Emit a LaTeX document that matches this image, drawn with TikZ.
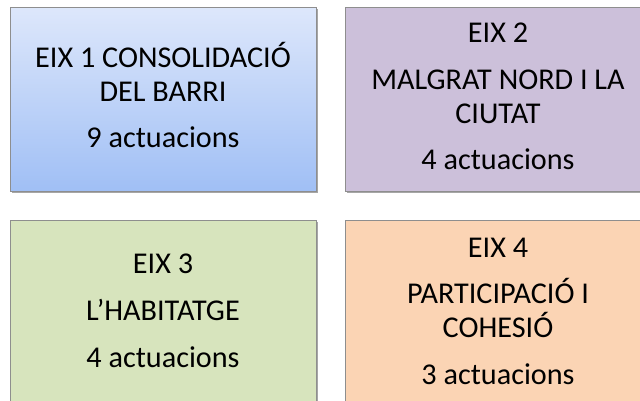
\documentclass[tikz,border=0pt]{standalone}
\usepackage{fontspec}
\setmainfont{Carlito}
\usetikzlibrary{shadows}
\definecolor{blueTop}{HTML}{DDE7FB}
\definecolor{blueBot}{HTML}{A0BFF5}
\definecolor{lilac}{HTML}{CCC0DA}
\definecolor{sage}{HTML}{D7E4BD}
\definecolor{peach}{HTML}{FBD4B4}
\definecolor{edge}{HTML}{8E8E8E}
\tikzset{
  box/.style={draw=edge, line width=0.8pt, anchor=north west, inner sep=0pt,
    minimum width=306pt, minimum height=184pt,
    drop shadow={shadow xshift=1.5pt, shadow yshift=-1.5pt, opacity=0.35, fill=black}},
  txt/.style={anchor=base, inner sep=0pt, font=\fontsize{30.2}{34}\selectfont, text=black}
}
\begin{document}
\begin{tikzpicture}[x=1pt,y=-1pt]
\useasboundingbox (0,0) rectangle (640,401);
\fill[white] (0,0) rectangle (640,401);
\node[box, top color=blueTop, bottom color=blueBot] (b1) at (10,7) {};
\node[box, fill=lilac] (b2) at (345,7) {};
\node[box, fill=sage] (b3) at (10,220) {};
\node[box, fill=peach] (b4) at (345,220) {};

\node[txt] (t11) at (163,68) {EIX 1 CONSOLIDACIÓ};
\node[txt] (t12) at (163,102) {DEL BARRI};
\node[txt] (t13) at (163,148) {9 actuacions};

\node[txt] (t21) at (498,43) {EIX 2};
\node[txt] (t22) at (498,90) {MALGRAT NORD I LA};
\node[txt] (t23) at (498,124) {CIUTAT};
\node[txt] (t24) at (498,170) {4 actuacions};

\node[txt] (t31) at (163,273) {EIX 3};
\node[txt] (t32) at (163,320) {L’HABITATGE};
\node[txt] (t33) at (163,367) {4 actuacions};

\node[txt] (t41) at (498,257) {EIX 4};
\node[txt] (t42) at (498,303) {PARTICIPACIÓ I};
\node[txt] (t43) at (498,337) {COHESIÓ};
\node[txt] (t44) at (498,384) {3 actuacions};
\end{tikzpicture}
\end{document}
